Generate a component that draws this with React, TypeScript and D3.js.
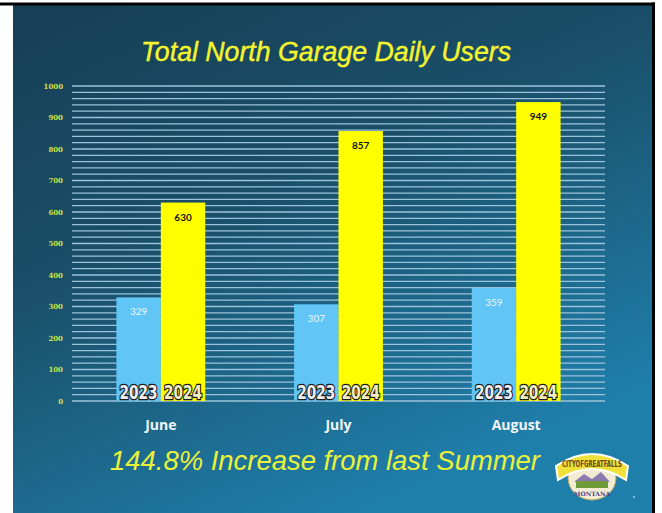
import React, { useEffect, useRef } from "react";
import * as d3 from "d3";

const months = ["June", "July", "August"];
const years = ["2023", "2024"];
const users2023 = [329, 307, 359];
const users2024 = [630, 857, 949];
const yTicks = [0, 100, 200, 300, 400, 500, 600, 700, 800, 900, 1000];

const W = 662;
const H = 513;

export default function App() {
  const ref = useRef<SVGSVGElement | null>(null);

  useEffect(() => {
    const svg = d3.select(ref.current);
    svg.selectAll("*").remove();

    const defs = svg.append("defs");
    const bg = defs
      .append("linearGradient")
      .attr("id", "bg")
      .attr("x1", "0")
      .attr("y1", "0")
      .attr("x2", "0.55")
      .attr("y2", "1");
    bg.append("stop").attr("offset", "0").attr("stop-color", "#163f54");
    bg.append("stop").attr("offset", "0.45").attr("stop-color", "#1a4f69");
    bg.append("stop").attr("offset", "1").attr("stop-color", "#1f7fab");

    // page frame
    svg.append("rect").attr("width", W).attr("height", H).attr("fill", "#fff");
    svg.append("rect").attr("x", 13).attr("y", 5).attr("width", 639).attr("height", H - 5).attr("fill", "url(#bg)");
    svg.append("rect").attr("x", 0).attr("y", 2.5).attr("width", 655).attr("height", 3).attr("fill", "#000");
    svg.append("rect").attr("x", 652).attr("y", 2.5).attr("width", 3).attr("height", H).attr("fill", "#000");

    const x0 = d3.scaleBand().domain(months).range([72, 605]).paddingInner(0.5).paddingOuter(0.25);
    const x1 = d3.scaleBand().domain(years).range([0, x0.bandwidth()]);
    const y = d3.scaleLinear().domain([0, 1000]).range([401, 86]);

    // grid lines every 20
    svg
      .append("g")
      .selectAll("line")
      .data(d3.range(0, 1001, 20))
      .enter()
      .append("line")
      .attr("x1", 72)
      .attr("x2", 605)
      .attr("y1", (d) => y(d))
      .attr("y2", (d) => y(d))
      .attr("stroke", "#9cc3da")
      .attr("stroke-width", 1.3);

    const yAxis = d3.axisLeft(y).tickValues(yTicks).tickFormat(d3.format("d")).tickSize(0).tickPadding(0);
    const ga = svg.append("g").attr("transform", "translate(63,0)").call(yAxis);
    ga.select(".domain").remove();
    ga.selectAll("text")
      .attr("fill", "#cfe046")
      .attr("font-family", "'DejaVu Serif', serif")
      .attr("font-weight", "bold")
      .attr("font-size", 7);

    const rows = months.map((m, i) => ({ m, vals: [users2023[i], users2024[i]] }));
    const groups = svg
      .append("g")
      .selectAll("g")
      .data(rows)
      .enter()
      .append("g")
      .attr("transform", (d) => `translate(${x0(d.m)},0)`);

    const colors = ["#61c6f6", "#ffff00"];
    const labelColors = ["#eef7ff", "#111"];

    groups
      .selectAll("rect")
      .data((d) => d.vals.map((v, j) => ({ v, yr: years[j], j })))
      .enter()
      .append("rect")
      .attr("x", (d) => x1(d.yr)!)
      .attr("y", (d) => y(d.v))
      .attr("width", x1.bandwidth())
      .attr("height", (d) => y(0) - y(d.v))
      .attr("fill", (d) => colors[d.j]);

    groups
      .selectAll("text.val")
      .data((d) => d.vals.map((v, j) => ({ v, yr: years[j], j })))
      .enter()
      .append("text")
      .attr("class", "val")
      .attr("x", (d) => x1(d.yr)! + x1.bandwidth() / 2)
      .attr("y", (d) => y(d.v) + 18)
      .attr("text-anchor", "middle")
      .attr("font-family", "Lato, 'Open Sans', sans-serif")
      .attr("font-size", 10)
      .attr("font-weight", (d) => (d.j === 1 ? "bold" : "normal"))
      .attr("fill", (d) => labelColors[d.j])
      .text((d) => d.v);

    groups
      .selectAll("text.yr")
      .data(years)
      .enter()
      .append("text")
      .attr("class", "yr")
      .attr("x", (d) => x1(d)! + x1.bandwidth() / 2)
      .attr("y", 399)
      .attr("text-anchor", "middle")
      .attr("font-family", "'Liberation Sans Narrow', 'DejaVu Sans Condensed', 'DejaVu Sans', sans-serif")
      .attr("font-weight", "bold")
      .attr("font-size", 19)
      .attr("textLength", 38)
      .attr("lengthAdjust", "spacingAndGlyphs")
      .attr("fill", (d, i) => (i === 0 ? "#eef0f4" : "#f3eec0"))
      .attr("stroke", "#1a1a1a")
      .attr("stroke-width", 2.6)
      .attr("paint-order", "stroke")
      .text((d) => d);

    // month labels
    svg
      .append("g")
      .selectAll("text")
      .data(months)
      .enter()
      .append("text")
      .attr("x", (d) => x0(d)! + x0.bandwidth() / 2)
      .attr("y", 430)
      .attr("text-anchor", "middle")
      .attr("font-family", "'Open Sans', sans-serif")
      .attr("font-weight", "bold")
      .attr("font-size", 14)
      .attr("fill", "#f2f6f8")
      .text((d) => d);

    svg
      .append("text")
      .attr("x", 326)
      .attr("y", 61)
      .attr("text-anchor", "middle")
      .attr("font-family", "'Liberation Sans', Arial, sans-serif")
      .attr("font-style", "italic")
      .attr("font-size", 27)
      .attr("textLength", 370)
      .attr("lengthAdjust", "spacingAndGlyphs")
      .attr("fill", "#f4f52e")
      .attr("stroke", "#f4f52e")
      .attr("stroke-width", 0.4)
      .text("Total North Garage Daily Users");

    svg
      .append("text")
      .attr("x", 325)
      .attr("y", 470)
      .attr("text-anchor", "middle")
      .attr("font-family", "'Liberation Sans', Arial, sans-serif")
      .attr("font-style", "italic")
      .attr("font-size", 27)
      .attr("textLength", 430)
      .attr("lengthAdjust", "spacingAndGlyphs")
      .attr("fill", "#e9f23a")
      .text("144.8% Increase from last Summer");

    // city logo (approximation)
    const logo = svg.append("g").attr("transform", "translate(592,476)");
    logo.append("ellipse").attr("rx", 24).attr("ry", 22).attr("cy", 2).attr("fill", "#f3ecd2").attr("stroke", "#b9a25a").attr("stroke-width", 1);
    logo.append("path").attr("d", "M-18,6 L-8,-2 L0,3 L9,-4 L18,6 Z").attr("fill", "#8b7bb0");
    logo.append("rect").attr("x", -16).attr("y", 5).attr("width", 32).attr("height", 7).attr("fill", "#6f9a3a");
    logo
      .append("path")
      .attr("d", "M-36,-10 Q0,-34 36,-10 L34,4 Q0,-18 -34,4 Z")
      .attr("fill", "#efe03a")
      .attr("stroke", "#fff")
      .attr("stroke-width", 2);
    logo
      .append("text")
      .attr("y", -9)
      .attr("text-anchor", "middle")
      .attr("font-family", "'Liberation Sans Narrow', 'DejaVu Sans Condensed', sans-serif")
      .attr("font-weight", "bold")
      .attr("font-size", 9)
      .attr("textLength", 60)
      .attr("lengthAdjust", "spacingAndGlyphs")
      .attr("fill", "#6a4a1a")
      .text("CITYOFGREATFALLS");
    logo
      .append("text")
      .attr("y", 20)
      .attr("text-anchor", "middle")
      .attr("font-family", "'DejaVu Serif', serif")
      .attr("font-weight", "bold")
      .attr("font-size", 6)
      .attr("fill", "#4a3a8a")
      .text("MONTANA");
    svg.append("circle").attr("cx", 634).attr("cy", 497).attr("r", 1).attr("fill", "#9fd0ee");
  }, []);

  return (
    <svg
      ref={ref}
      width={W}
      height={H}
      style={{ position: "absolute", left: 0, top: 0, display: "block" }}
    />
  );
}
